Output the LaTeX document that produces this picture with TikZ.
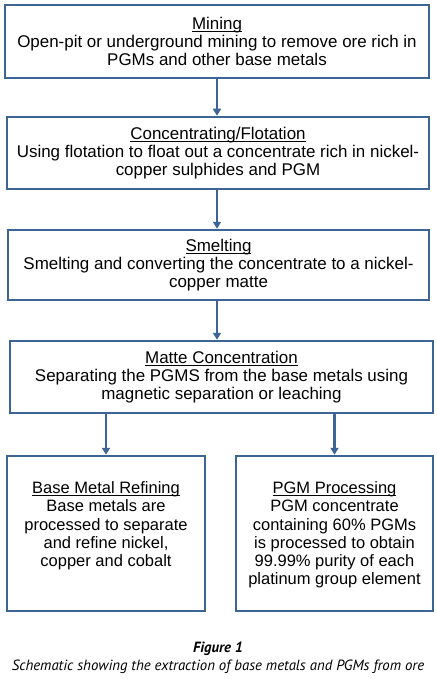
\documentclass[tikz,border=0pt]{standalone}
\usepackage{fontspec}
\setmainfont{Liberation Sans}
\newfontfamily\captionfont{PT Sans}
\usetikzlibrary{arrows.meta}
\definecolor{boxblue}{RGB}{60,100,148}
\newcommand{\headline}[1]{\leavevmode\setbox0\hbox{#1}\rlap{\vrule width\wd0 height -1.9pt depth 2.9pt}\box0}

\begin{document}
\begin{tikzpicture}[
    x=1pt, y=-1pt,
    stage/.style={draw=boxblue, line width=2.5pt, align=center, inner sep=0pt,
      font=\fontsize{16.95}{18.3}\selectfont},
    outcome/.style={stage, font=\fontsize{16.5}{18.3}\selectfont},
    flow/.style={draw=boxblue, line width=2.5pt, -{Triangle[width=8pt,length=7pt]}},
    caption/.style={font=\captionfont\fontsize{14.8}{17}\selectfont\itshape},
    figno/.style={font=\captionfont\fontsize{14.8}{17}\selectfont\bfseries\itshape},
]
\useasboundingbox (0,0) rectangle (436,679);

% Main chain
\node[stage, minimum width=424pt, minimum height=73pt] (mining) at (217,41.5)
  {\headline{Mining}\\ Open-pit or underground mining to remove ore rich in\\ PGMs and other base metals};
\node[stage, minimum width=422pt, minimum height=72pt] (flotation) at (218,153)
  {\headline{Concentrating/Flotation}\\ Using flotation to float out a concentrate rich in nickel-\\ copper sulphides and PGM};
\node[stage, minimum width=421pt, minimum height=70pt] (smelting) at (218.5,265)
  {\headline{Smelting}\\ Smelting and converting the concentrate to a nickel-\\ copper matte};
\node[stage, minimum width=423pt, minimum height=72pt] (matte) at (221.5,377)
  {\headline{Matte Concentration}\\ Separating the PGMS from the base metals using\\ magnetic separation or leaching};

% Two branches
\node[outcome, minimum width=198pt, minimum height=155pt] (refining) at (106,533.5)
  {\parbox[c][104pt][t]{190pt}{\centering \headline{Base Metal Refining}\\ Base metals are\\ processed to separate\\ and refine nickel,\\ copper and cobalt}};
\node[outcome, minimum width=197pt, minimum height=155pt] (pgm) at (334.5,533.5)
  {\parbox[c][104pt][t]{190pt}{\centering \headline{PGM Processing}\\ PGM concentrate\\ containing 60\% PGMs\\ is processed to obtain\\ 99.99\% purity of each\\ platinum group element}};

% Arrows
\foreach \a/\b in {mining/flotation, flotation/smelting, smelting/matte}{
  \draw[flow] (\a.south -| mining) -- (\b.north -| mining);
}
\draw[flow] (matte.south -| refining) -- (refining.north);
\draw[flow] (matte.south -| pgm) -- (pgm.north);

% Caption
\node[figno] (fignum) at (218,649) {Figure 1};
\node[caption] (figtext) at (218,667) {Schematic showing the extraction of base metals and PGMs from ore};

\end{tikzpicture}
\end{document}
